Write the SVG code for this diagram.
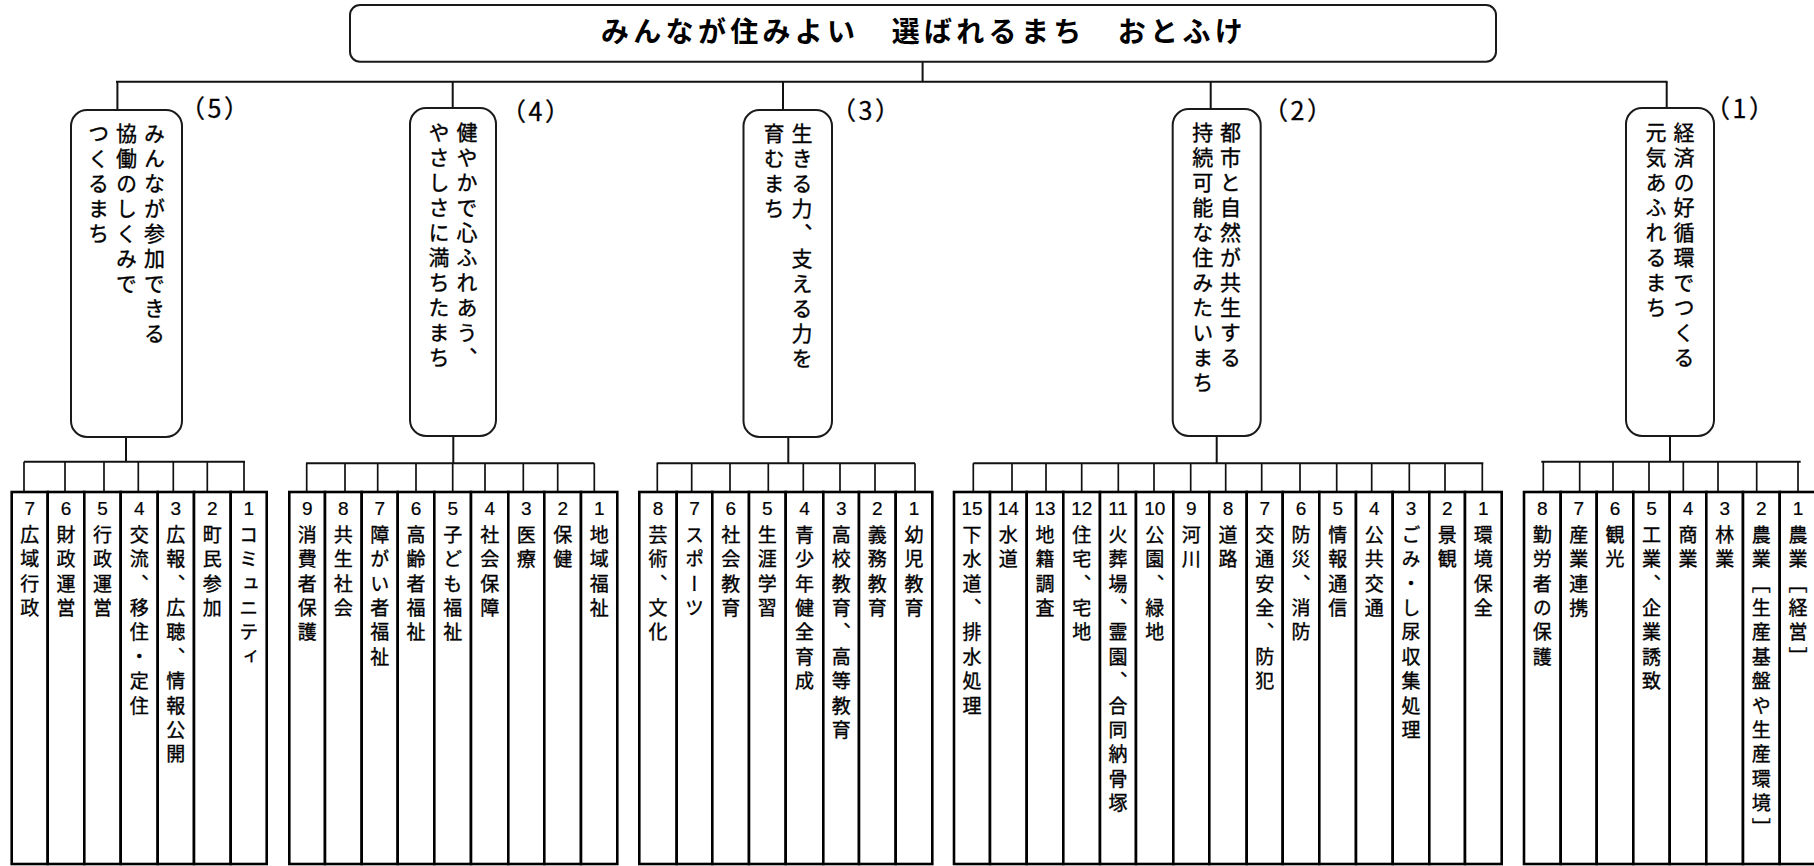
<svg xmlns="http://www.w3.org/2000/svg" width="1814" height="866" viewBox="0 0 1814 866">
<style>
.bg{fill:#fff}
.box{fill:#fff;stroke:#1a1a1a;stroke-width:2}
.leaf{fill:#fff;stroke:#000;stroke-width:2.6}
.ln{stroke:#111;stroke-width:2;fill:none}
.dr{stroke:#111;stroke-width:1.7;fill:none}
.title{font-family:"Noto Sans CJK JP",sans-serif;font-weight:bold;font-size:28px;letter-spacing:4.3px;fill:#000}
.lab{font-family:"Noto Sans CJK JP",sans-serif;font-size:25px;letter-spacing:2.5px;fill:#000;stroke:#000;stroke-width:0.3}
.bv{font-family:"Noto Sans CJK JP",sans-serif;font-size:21px;letter-spacing:4px;writing-mode:vertical-rl;fill:#000;stroke:#000;stroke-width:0.35}
.lv{font-family:"Noto Sans CJK JP",sans-serif;font-size:19px;letter-spacing:5.4px;writing-mode:vertical-rl;fill:#000;stroke:#000;stroke-width:0.35}
.num{font-family:"Liberation Sans","Noto Sans CJK JP",sans-serif;font-size:19px;text-anchor:middle;fill:#000;stroke:#000;stroke-width:0.2}
</style>
<rect class="bg" x="0" y="0" width="1814" height="866"/>

<g id="connectors">
<line class="ln" x1="922.6" y1="61.7" x2="922.6" y2="81.7"/>
<line class="ln" x1="116" y1="81.7" x2="1667.5" y2="81.7"/>
<line class="ln" x1="117.4" y1="81.7" x2="117.4" y2="110"/>
<line class="ln" x1="452.7" y1="81.7" x2="452.7" y2="108"/>
<line class="ln" x1="783" y1="81.7" x2="783" y2="110"/>
<line class="ln" x1="1210.7" y1="81.7" x2="1210.7" y2="109"/>
<line class="ln" x1="1666.7" y1="81.7" x2="1666.7" y2="108"/>
<line class="ln" x1="126" y1="437" x2="126" y2="461.7"/>
<line class="ln" x1="453.3" y1="436" x2="453.3" y2="463.3"/>
<line class="ln" x1="788.3" y1="437" x2="788.3" y2="463.3"/>
<line class="ln" x1="1216.7" y1="436" x2="1216.7" y2="463.3"/>
<line class="ln" x1="1670" y1="436" x2="1670" y2="461.7"/>
<line class="ln" x1="24" y1="461.7" x2="245" y2="461.7"/>
<line class="ln" x1="306" y1="463.3" x2="594.3" y2="463.3"/>
<line class="ln" x1="656.7" y1="463.3" x2="915" y2="463.3"/>
<line class="ln" x1="973.3" y1="463.3" x2="1483.3" y2="463.3"/>
<line class="ln" x1="1541.3" y1="461.7" x2="1800.7" y2="461.7"/>
<path class="dr" d="M24,461.7V492M65,461.7V492M104,461.7V492M138.3,461.7V492M173.3,461.7V492M207.3,461.7V492M244,461.7V492"/>
<path class="dr" d="M306.7,463.3V492M345,463.3V492M377.7,463.3V492M416,463.3V492M452.7,463.3V492M485,463.3V492M523.3,463.3V492M557.7,463.3V492M594.3,463.3V492"/>
<path class="dr" d="M657.3,463.3V492M691.7,463.3V492M730,463.3V492M768.3,463.3V492M803.3,463.3V492M840,463.3V492M875,463.3V492M915,463.3V492"/>
<path class="dr" d="M973.3,463.3V492M1012,463.3V492M1046,463.3V492M1081.7,463.3V492M1118.3,463.3V492M1154,463.3V492M1190.7,463.3V492M1225.7,463.3V492M1261.7,463.3V492M1300,463.3V492M1336.7,463.3V492M1371.7,463.3V492M1409.3,463.3V492M1445,463.3V492M1482.3,463.3V492"/>
<path class="dr" d="M1543.3,461.7V492M1579.7,461.7V492M1613,461.7V492M1649,461.7V492M1683.3,461.7V492M1718,461.7V492M1756.7,461.7V492M1798,461.7V492"/>
</g>

<g id="title">
<rect class="box" x="350" y="5" width="1146" height="56.7" rx="10"/>
<text class="title" x="601" y="42">みんなが住みよい　選ばれるまち　おとふけ</text>
</g>

<g id="goal5">
<rect class="box" x="71" y="110" width="111" height="327" rx="16"/>
<text class="bv" x="154.5" y="123">みんなが参加できる</text>
<text class="bv" x="126.5" y="123">協働のしくみで</text>
<text class="bv" x="98.5" y="123">つくるまち</text>
<text class="lab" x="180" y="118">（5）</text>
</g>
<g id="goal4">
<rect class="box" x="410" y="108" width="86" height="328" rx="16"/>
<text class="bv" x="467" y="122">健やかで心ふれあう、</text>
<text class="bv" x="439" y="122">やさしさに満ちたまち</text>
<text class="lab" x="501" y="121">（4）</text>
</g>
<g id="goal3">
<rect class="box" x="743.5" y="110" width="88.5" height="327" rx="16"/>
<text class="bv" x="802" y="123">生きる力、支える力を</text>
<text class="bv" x="774" y="123">育むまち</text>
<text class="lab" x="831" y="120">（3）</text>
</g>
<g id="goal2">
<rect class="box" x="1172.7" y="109" width="88" height="327" rx="16"/>
<text class="bv" x="1230.5" y="122">都市と自然が共生する</text>
<text class="bv" x="1202.7" y="122">持続可能な住みたいまち</text>
<text class="lab" x="1263" y="120">（2）</text>
</g>
<g id="goal1">
<rect class="box" x="1626" y="108" width="88" height="328" rx="16"/>
<text class="bv" x="1684" y="122">経済の好循環でつくる</text>
<text class="bv" x="1656" y="122">元気あふれるまち</text>
<text class="lab" x="1705" y="118">（1）</text>
</g>

<g id="g5-7"><rect class="leaf" x="11.7" y="492" width="36" height="372"/><text class="num" x="29.7" y="515">7</text><text class="lv" x="29.7" y="525">広域行政</text></g>
<g id="g5-6"><rect class="leaf" x="47.7" y="492" width="36.6" height="372"/><text class="num" x="66" y="515">6</text><text class="lv" x="66" y="525">財政運営</text></g>
<g id="g5-5"><rect class="leaf" x="84.3" y="492" width="36.4" height="372"/><text class="num" x="102.5" y="515">5</text><text class="lv" x="102.5" y="525">行政運営</text></g>
<g id="g5-4"><rect class="leaf" x="120.7" y="492" width="37" height="372"/><text class="num" x="139.2" y="515">4</text><text class="lv" x="139.2" y="525">交流、移住・定住</text></g>
<g id="g5-3"><rect class="leaf" x="157.7" y="492" width="36.3" height="372"/><text class="num" x="175.8" y="515">3</text><text class="lv" x="175.8" y="525">広報、広聴、情報公開</text></g>
<g id="g5-2"><rect class="leaf" x="194" y="492" width="36.7" height="372"/><text class="num" x="212.3" y="515">2</text><text class="lv" x="212.3" y="525">町民参加</text></g>
<g id="g5-1"><rect class="leaf" x="230.7" y="492" width="36" height="372"/><text class="num" x="248.7" y="515">1</text><text class="lv" x="248.7" y="525">コミュニティ</text></g>

<g id="g4-9"><rect class="leaf" x="289.3" y="492" width="35.7" height="372"/><text class="num" x="307.2" y="515">9</text><text class="lv" x="307.2" y="525">消費者保護</text></g>
<g id="g4-8"><rect class="leaf" x="325" y="492" width="36.7" height="372"/><text class="num" x="343.3" y="515">8</text><text class="lv" x="343.3" y="525">共生社会</text></g>
<g id="g4-7"><rect class="leaf" x="361.7" y="492" width="36" height="372"/><text class="num" x="379.7" y="515">7</text><text class="lv" x="379.7" y="525">障がい者福祉</text></g>
<g id="g4-6"><rect class="leaf" x="397.7" y="492" width="36.6" height="372"/><text class="num" x="416" y="515">6</text><text class="lv" x="416" y="525">高齢者福祉</text></g>
<g id="g4-5"><rect class="leaf" x="434.3" y="492" width="36.7" height="372"/><text class="num" x="452.7" y="515">5</text><text class="lv" x="452.7" y="525">子ども福祉</text></g>
<g id="g4-4"><rect class="leaf" x="471" y="492" width="37.3" height="372"/><text class="num" x="489.7" y="515">4</text><text class="lv" x="489.7" y="525">社会保障</text></g>
<g id="g4-3"><rect class="leaf" x="508.3" y="492" width="36" height="372"/><text class="num" x="526.3" y="515">3</text><text class="lv" x="526.3" y="525">医療</text></g>
<g id="g4-2"><rect class="leaf" x="544.3" y="492" width="36.7" height="372"/><text class="num" x="562.7" y="515">2</text><text class="lv" x="562.7" y="525">保健</text></g>
<g id="g4-1"><rect class="leaf" x="581" y="492" width="36.3" height="372"/><text class="num" x="599.2" y="515">1</text><text class="lv" x="599.2" y="525">地域福祉</text></g>

<g id="g3-8"><rect class="leaf" x="639.3" y="492" width="37.4" height="372"/><text class="num" x="658" y="515">8</text><text class="lv" x="658" y="525">芸術、文化</text></g>
<g id="g3-7"><rect class="leaf" x="676.7" y="492" width="35.6" height="372"/><text class="num" x="694.5" y="515">7</text><text class="lv" x="694.5" y="525">スポーツ</text></g>
<g id="g3-6"><rect class="leaf" x="712.3" y="492" width="36.7" height="372"/><text class="num" x="730.7" y="515">6</text><text class="lv" x="730.7" y="525">社会教育</text></g>
<g id="g3-5"><rect class="leaf" x="749" y="492" width="36.7" height="372"/><text class="num" x="767.3" y="515">5</text><text class="lv" x="767.3" y="525">生涯学習</text></g>
<g id="g3-4"><rect class="leaf" x="785.7" y="492" width="37.6" height="372"/><text class="num" x="804.5" y="515">4</text><text class="lv" x="804.5" y="525">青少年健全育成</text></g>
<g id="g3-3"><rect class="leaf" x="823.3" y="492" width="35.7" height="372"/><text class="num" x="841.2" y="515">3</text><text class="lv" x="841.2" y="525">高校教育、高等教育</text></g>
<g id="g3-2"><rect class="leaf" x="859" y="492" width="36.7" height="372"/><text class="num" x="877.3" y="515">2</text><text class="lv" x="877.3" y="525">義務教育</text></g>
<g id="g3-1"><rect class="leaf" x="895.7" y="492" width="36.6" height="372"/><text class="num" x="914" y="515">1</text><text class="lv" x="914" y="525">幼児教育</text></g>

<g id="g2-15"><rect class="leaf" x="954" y="492" width="36" height="372"/><text class="num" x="972" y="515">15</text><text class="lv" x="972" y="525">下水道、排水処理</text></g>
<g id="g2-14"><rect class="leaf" x="990" y="492" width="36.7" height="372"/><text class="num" x="1008.3" y="515">14</text><text class="lv" x="1008.3" y="525">水道</text></g>
<g id="g2-13"><rect class="leaf" x="1026.7" y="492" width="36.6" height="372"/><text class="num" x="1045" y="515">13</text><text class="lv" x="1045" y="525">地籍調査</text></g>
<g id="g2-12"><rect class="leaf" x="1063.3" y="492" width="36.7" height="372"/><text class="num" x="1081.7" y="515">12</text><text class="lv" x="1081.7" y="525">住宅、宅地</text></g>
<g id="g2-11"><rect class="leaf" x="1100" y="492" width="36" height="372"/><text class="num" x="1118" y="515">11</text><text class="lv" x="1118" y="525">火葬場、霊園、合同納骨塚</text></g>
<g id="g2-10"><rect class="leaf" x="1136" y="492" width="37.3" height="372"/><text class="num" x="1154.7" y="515">10</text><text class="lv" x="1154.7" y="525">公園、緑地</text></g>
<g id="g2-9"><rect class="leaf" x="1173.3" y="492" width="36" height="372"/><text class="num" x="1191.3" y="515">9</text><text class="lv" x="1191.3" y="525">河川</text></g>
<g id="g2-8"><rect class="leaf" x="1209.3" y="492" width="37.4" height="372"/><text class="num" x="1228" y="515">8</text><text class="lv" x="1228" y="525">道路</text></g>
<g id="g2-7"><rect class="leaf" x="1246.7" y="492" width="36" height="372"/><text class="num" x="1264.7" y="515">7</text><text class="lv" x="1264.7" y="525">交通安全、防犯</text></g>
<g id="g2-6"><rect class="leaf" x="1282.7" y="492" width="36.6" height="372"/><text class="num" x="1301" y="515">6</text><text class="lv" x="1301" y="525">防災、消防</text></g>
<g id="g2-5"><rect class="leaf" x="1319.3" y="492" width="36.7" height="372"/><text class="num" x="1337.7" y="515">5</text><text class="lv" x="1337.7" y="525">情報通信</text></g>
<g id="g2-4"><rect class="leaf" x="1356" y="492" width="36.7" height="372"/><text class="num" x="1374.3" y="515">4</text><text class="lv" x="1374.3" y="525">公共交通</text></g>
<g id="g2-3"><rect class="leaf" x="1392.7" y="492" width="36.6" height="372"/><text class="num" x="1411" y="515">3</text><text class="lv" x="1411" y="525">ごみ・し尿収集処理</text></g>
<g id="g2-2"><rect class="leaf" x="1429.3" y="492" width="35.7" height="372"/><text class="num" x="1447.2" y="515">2</text><text class="lv" x="1447.2" y="525">景観</text></g>
<g id="g2-1"><rect class="leaf" x="1465" y="492" width="36.7" height="372"/><text class="num" x="1483.3" y="515">1</text><text class="lv" x="1483.3" y="525">環境保全</text></g>

<g id="g1-8"><rect class="leaf" x="1524" y="492" width="36.7" height="372"/><text class="num" x="1542.3" y="515">8</text><text class="lv" x="1542.3" y="525">勤労者の保護</text></g>
<g id="g1-7"><rect class="leaf" x="1560.7" y="492" width="36" height="372"/><text class="num" x="1578.7" y="515">7</text><text class="lv" x="1578.7" y="525">産業連携</text></g>
<g id="g1-6"><rect class="leaf" x="1596.7" y="492" width="36.6" height="372"/><text class="num" x="1615" y="515">6</text><text class="lv" x="1615" y="525">観光</text></g>
<g id="g1-5"><rect class="leaf" x="1633.3" y="492" width="36.4" height="372"/><text class="num" x="1651.5" y="515">5</text><text class="lv" x="1651.5" y="525">工業、企業誘致</text></g>
<g id="g1-4"><rect class="leaf" x="1669.7" y="492" width="36.6" height="372"/><text class="num" x="1688" y="515">4</text><text class="lv" x="1688" y="525">商業</text></g>
<g id="g1-3"><rect class="leaf" x="1706.3" y="492" width="36.7" height="372"/><text class="num" x="1724.7" y="515">3</text><text class="lv" x="1724.7" y="525">林業</text></g>
<g id="g1-2"><rect class="leaf" x="1743" y="492" width="36.7" height="372"/><text class="num" x="1761.3" y="515">2</text><text class="lv" x="1761.3" y="525">農業［生産基盤や生産環境］</text></g>
<g id="g1-1"><rect class="leaf" x="1779.7" y="492" width="36.6" height="372"/><text class="num" x="1798" y="515">1</text><text class="lv" x="1798" y="525">農業［経営］</text></g>
</svg>
